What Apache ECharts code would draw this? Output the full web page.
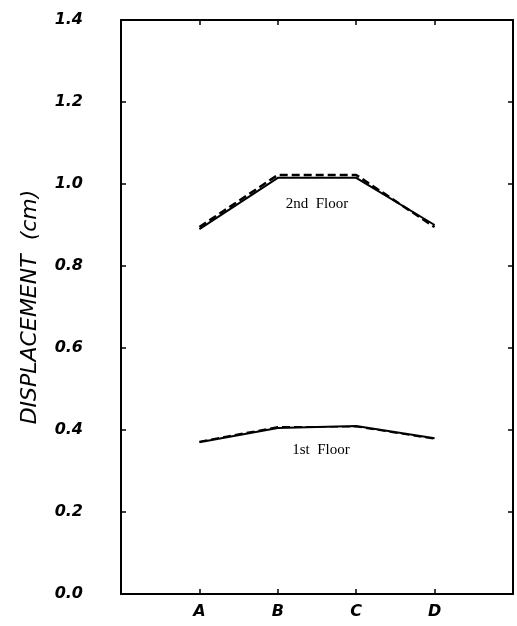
<!DOCTYPE html>
<html>
<head>
<meta charset="utf-8">
<script src="https://cdn.jsdelivr.net/npm/echarts@6/dist/echarts.min.js"></script>
<style>
  html, body { margin: 0; padding: 0; background: #fff; }
  #chart { width: 517px; height: 626px; }
</style>
</head>
<body>
<div id="chart"></div>
<script>
// stations along the x axis (positions 1..4, with empty space on both ends)
var stations = ['A', 'B', 'C', 'D'];
var stationPos = [1, 2, 3, 4];
var yTicks = [0, 0.2, 0.4, 0.6, 0.8, 1.0, 1.2, 1.4];

// displacement (cm), two traces per floor that nearly overlap
var floor2Solid = [0.89, 1.015, 1.015, 0.90];
var floor2Dash = [0.895, 1.022, 1.022, 0.895];
var floor1Solid = [0.37, 0.405, 0.41, 0.38];
var floor1Dash = [0.372, 0.408, 0.408, 0.378];

var floorLabels = ['2nd  Floor', '1st  Floor'];
var floorLabelPos = [[2.5, 0.95], [2.55, 0.35]];

function pairs(vals) {
    var out = [];
    for (let i = 0; i < vals.length; i++) out.push([stationPos[i], vals[i]]);
    return out;
}

var chart = echarts.init(document.getElementById('chart'));
var tickFont = {
    color: '#000',
    fontFamily: 'DejaVu Sans',
    fontStyle: 'italic',
    fontWeight: 'bold',
    fontSize: 16
};
var frameLine = { onZero: false, lineStyle: { color: '#000', width: 2 } };
var frameTick = { inside: true, length: 5, lineStyle: { color: '#000', width: 1.5 } };

var option = {
    animation: false,
    backgroundColor: '#fff',
    grid: { left: 121, right: 4, top: 20, bottom: 32 },
    xAxis: [{
        type: 'value', min: 0, max: 5, interval: 1,
        axisLine: frameLine,
        axisTick: frameTick,
        axisLabel: Object.assign({
            margin: 10,
            formatter: function (v) { return stations[stationPos.indexOf(v)] || ''; }
        }, tickFont),
        splitLine: { show: false }
    }, {
        type: 'value', min: 0, max: 5, interval: 1, position: 'top',
        axisLine: frameLine,
        axisTick: frameTick,
        axisLabel: { show: false },
        splitLine: { show: false }
    }],
    yAxis: [{
        type: 'value', min: 0, max: 1.4, interval: 0.2,
        name: 'DISPLACEMENT  (cm)',
        nameLocation: 'middle',
        nameGap: 80,
        nameTextStyle: {
            color: '#000', fontFamily: 'DejaVu Sans', fontStyle: 'italic', fontSize: 22
        },
        axisLine: frameLine,
        axisTick: frameTick,
        axisLabel: Object.assign({
            margin: 38,
            formatter: function (v) { return v.toFixed(1); }
        }, tickFont),
        splitLine: { show: false }
    }, {
        type: 'value', min: 0, max: 1.4, interval: 0.2, position: 'right',
        axisLine: frameLine,
        axisTick: frameTick,
        axisLabel: { show: false },
        splitLine: { show: false }
    }],
    series: [
        { type: 'line', data: pairs(floor2Solid), symbol: 'none',
          lineStyle: { color: '#000', width: 2 } },
        { type: 'line', data: pairs(floor2Dash), symbol: 'none',
          lineStyle: { color: '#000', width: 2.5, type: [8, 4] } },
        { type: 'line', data: pairs(floor1Solid), symbol: 'none',
          lineStyle: { color: '#000', width: 2 } },
        { type: 'line', data: pairs(floor1Dash), symbol: 'none',
          lineStyle: { color: '#000', width: 1.5, type: [8, 4] } },
        { type: 'scatter', symbolSize: 0, itemStyle: { opacity: 1 },
          data: floorLabelPos.map(function (p, i) { return { value: p, name: floorLabels[i] }; }),
          label: {
              show: true, position: 'inside',
              formatter: function (p) { return p.name; },
              color: '#000', fontFamily: 'Liberation Serif', fontSize: 15
          } }
    ]
};
chart.setOption(option);
</script>
</body>
</html>
